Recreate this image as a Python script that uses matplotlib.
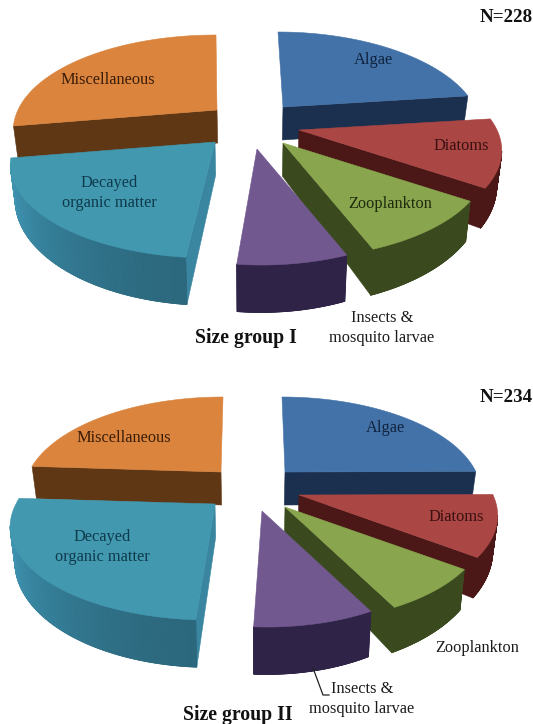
import numpy as np
import matplotlib
matplotlib.use("Agg")
import matplotlib.pyplot as plt
from matplotlib.patches import Polygon
from matplotlib.colors import to_rgb

plt.rcParams['font.family'] = ['Liberation Serif', 'DejaVu Serif']

# Diet composition (% of gut content) per size group
categories = ["Algae", "Diatoms", "Zooplankton", "Insects & mosquito larvae",
              "Decayed organic matter", "Miscellaneous"]
group1_shares = [23.0, 11.5, 9.6, 7.5, 20.7, 27.7]
group2_shares = [24.9, 10.3, 7.3, 8.4, 25.1, 24.0]
group_titles = ["Size group I", "Size group II"]
group_counts = ["N=228", "N=234"]

top_colors = ["#4372a8", "#aa4644", "#89a54e", "#71588f", "#4198af", "#db843d"]
side_colors = ["#1b304f", "#4b1717", "#3a4a1e", "#2f2347", "#2c687d", "#5f3714"]
cut_colors = ["#1b304f", "#4b1717", "#3a4a1e", "#2f2347", "#3a86a0", "#5f3714"]

# Pie layout in figure pixels: wedge apex, radius, lean of the far edge and tilt of the near edge
layout1 = dict(apex=[(283, 107), (299, 130), (283, 143), (257, 149), (215, 142), (217, 110)],
               rx=[192, 198, 199, 190, 199, 199], lean=[5, 0, 0, 0, 0, 1],
               tilt=[0, 0, 0, 4, -4, 0], d0=33)
layout2 = dict(apex=[(285, 472), (299, 495), (285, 507), (262, 511), (215, 504), (221, 472)],
               rx=[191, 194, 195, 186, 199, 192], lean=[3, 0, 0, 0, 0, -2],
               tilt=[0, 0, 0, 5, -5, 0], d0=33)

# Camera: height scale of the pie plane and strength of the foreshortening
RY = 91.1
PERSP = 0.2147
CENTER_X = 250.0
BASE_PULL = 0.02


def project(theta, apex, rx, lean, tilt):
    u, v = np.cos(theta), np.sin(theta)
    w = 1 + PERSP * v
    x = apex[0] + rx * u / w - lean * np.clip(v, 0, 1) + tilt * np.clip(-v, 0, 1)
    y = apex[1] - RY * v / w
    return x, y, w


def drop(x, y, depth):
    """Point on the lower rim, under a point of the upper rim."""
    return x + (CENTER_X - x) * BASE_PULL, y + depth


def draw_pie(ax, shares, layout):
    total = float(sum(shares))
    edges = 90.0 - np.concatenate([[0.0], np.cumsum(shares)]) * 360.0 / total
    # back slices first so the nearer ones cover them
    for i in [5, 0, 1, 4, 2, 3]:
        apex = layout["apex"][i]
        t = np.radians(np.linspace(edges[i], edges[i + 1], 120))
        x, y, w = project(t, apex, layout["rx"][i], layout["lean"][i], layout["tilt"][i])
        d0 = layout["d0"]
        depth = d0 / w ** 1.5

        # straight cut walls, only those turned toward the viewer
        for k, visible in ((0, np.cos(t[0]) < 0), (-1, np.cos(t[-1]) > 0)):
            if visible:
                wall = [apex, (x[k], y[k]), drop(x[k], y[k], depth[k]), drop(apex[0], apex[1], d0)]
                ax.add_patch(Polygon(wall, closed=True, fc=cut_colors[i], ec=cut_colors[i], lw=0.4))

        # curved outer wall on the near part of the rim
        near = np.sin(t) < -PERSP
        if near.sum() > 1:
            xn, yn, dn = x[near], y[near], depth[near]
            bx, by = drop(xn, yn, dn)
            rim = np.vstack([np.column_stack([xn, yn]), np.column_stack([bx, by])[::-1]])
            base = np.array(to_rgb(side_colors[i]))
            ax.add_patch(Polygon(rim, closed=True, fc=base, ec=base, lw=0.4))
            tn = t[near]
            for a in range(len(tn) - 1):
                shade = 1 + 0.45 * np.clip(-np.cos(tn[a]), 0, 1) ** 2
                col = np.clip(base * shade, 0, 1)
                quad = [(xn[a], yn[a]), (xn[a + 1], yn[a + 1]), (bx[a + 1], by[a + 1]), (bx[a], by[a])]
                ax.add_patch(Polygon(quad, closed=True, fc=col, ec=col, lw=0.6))

        outline = np.vstack([[apex], np.column_stack([x, y])])
        ax.add_patch(Polygon(outline, closed=True, fc=top_colors[i], ec=top_colors[i], lw=0.4))


fig = plt.figure(figsize=(5.33, 7.24), dpi=100)
ax = fig.add_axes([0, 0, 1, 1])
ax.set_xlim(0, 533)
ax.set_ylim(724, 0)
ax.axis("off")

draw_pie(ax, group1_shares, layout1)
draw_pie(ax, group2_shares, layout2)

INK = "#1c1c1c"
label_kw = dict(ha="center", va="center", fontsize=11.8, linespacing=1.3)
title_kw = dict(ha="center", va="center", fontsize=14.2, fontweight="bold", color="#111111")
count_kw = dict(ha="center", va="center", fontsize=13.7, fontweight="bold", color="#111111")

ax.text(108, 80, categories[5], color="#3a1d08", **label_kw)
ax.text(373, 60, categories[0], color="#10233f", **label_kw)
ax.text(461, 146, categories[1], color="#3a1010", **label_kw)
ax.text(390, 204, categories[2], color="#1f2a0d", **label_kw)
ax.text(109, 193, "Decayed\norganic matter", color="#0f3a4c", **label_kw)
ax.text(382, 328, "Insects &\nmosquito larvae", color=INK, **label_kw)
ax.text(246, 338, group_titles[0], **title_kw)
ax.text(506, 18, group_counts[0], **count_kw)

ax.text(124, 438, categories[5], color="#3a1d08", **label_kw)
ax.text(385, 428, categories[0], color="#10233f", **label_kw)
ax.text(456, 517, categories[1], color="#3a1010", **label_kw)
ax.text(477, 648, categories[2], color=INK, **label_kw)
ax.text(102, 547, "Decayed\norganic matter", color="#0f3a4c", **label_kw)
ax.text(362, 699, "Insects &\nmosquito larvae", color=INK, **label_kw)
ax.text(238, 715, group_titles[1], **title_kw)
ax.text(506, 397, group_counts[1], **count_kw)

# leader from the insects slice to its label
ax.plot([313, 323, 329], [668, 695, 695], color="#222222", lw=0.9)

fig.savefig("out.png", dpi=100, facecolor="white")
